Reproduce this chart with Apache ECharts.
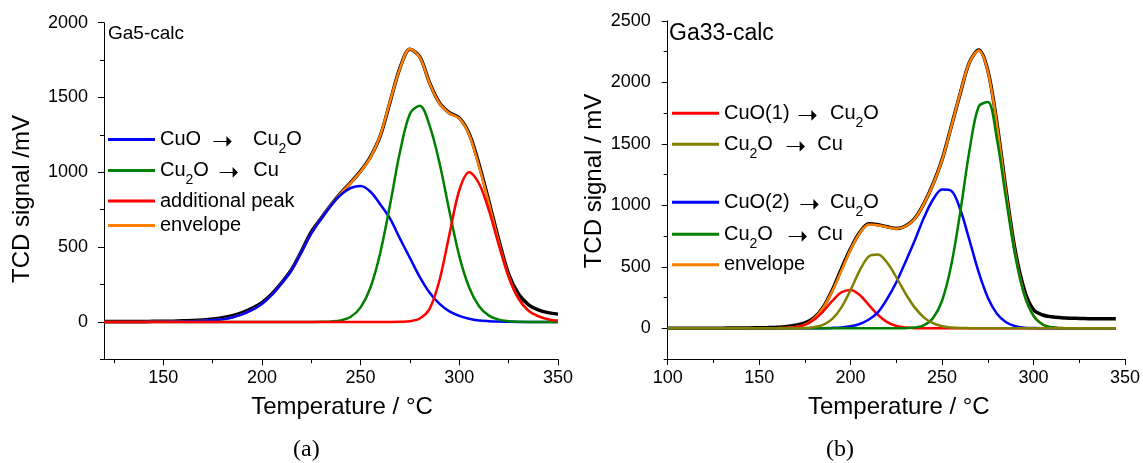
<!DOCTYPE html>
<html>
<head>
<meta charset="utf-8">
<script src="https://cdn.jsdelivr.net/npm/echarts@6/dist/echarts.min.js"></script>
<style>
html,body{margin:0;padding:0;background:#fff;}
#c{width:1143px;height:463px;}
</style>
</head>
<body>
<div id="c"></div>
<script>
// ---------- Panel (a): Ga5-calc ----------
const tempA = [120,125,130,135,140,145,150,155,160,165,170,175,180,185,190,195,200,205,210,215,220,225,230,235,240,245,250,255,260,265,270,275,280,285,290,295,300,305,310,315,320,325,330,335,340,345,350];
const aExperiment = [2,2,2,3,3,4,4,5,7,9,13,19,28,42,62,90,128,186,262,350,472,602,692,782,862,932,1008,1104,1245,1474,1700,1822,1772,1597,1463,1398,1364,1258,1053,806,548,320,186,116,81,62,52];
const aEnvelope   = [0,0,0,0,0,1,1,2,3,5,8,12,18,30,50,80,120,180,258,345,465,590,691,783,860,929,1005,1100,1249,1478,1696,1824,1768,1594,1460,1395,1360,1251,1040,792,532,306,156,75,38,17,7];
const aCuO        = [0,0,0,0,0,1,1,2,3,5,8,12,18,30,50,80,120,180,258,345,465,590,690,780,850,895,908,870,785,688,555,427,300,195,120,70,40,21,10,5,2,1,0,0,0,0,0];
const aCu2O       = [0,0,0,0,0,0,0,0,0,0,0,0,0,0,0,0,0,0,0,0,0,0,1,3,10,34,97,230,464,790,1140,1392,1445,1310,1060,740,440,230,105,42,15,5,1,0,0,0,0];
const aAdditional = [0,0,0,0,0,0,0,0,0,0,0,0,0,0,0,0,0,0,0,0,0,0,0,0,0,0,0,0,0,0,1,5,23,89,280,585,880,1000,925,745,515,300,155,75,38,17,7];

// ---------- Panel (b): Ga33-calc ----------
const tempB = [100,105,110,115,120,125,130,135,140,145,150,155,160,165,170,175,180,185,190,195,200,205,210,215,220,225,230,235,240,245,250,255,260,265,270,275,280,285,290,295,300,305,310,315,320,325,330,335,340,345];
const bExperiment = [0,0,0,0,1,1,1,2,2,3,4,6,9,15,25,44,84,172,312,485,648,780,850,843,826,812,832,892,1012,1172,1372,1640,1915,2165,2264,2098,1668,1122,632,312,150,108,93,86,82,80,78,77,77,78];
const bEnvelope   = [0,0,0,0,0,0,0,0,0,0,0,0,1,3,10,30,79,167,302,470,640,776,845,839,823,809,830,889,1010,1168,1369,1637,1917,2164,2261,2091,1656,1100,606,274,103,31,8,2,0,0,0,0,0,0];
const bCuO1       = [0,0,0,0,0,0,0,0,0,0,0,0,1,3,9,28,70,138,223,293,312,270,189,108,50,19,6,1,0,0,0,0,0,0,0,0,0,0,0,0,0,0,0,0,0,0,0,0,0,0];
const bCu2O1      = [0,0,0,0,0,0,0,0,0,0,0,0,0,0,1,2,9,28,76,170,312,471,585,600,533,415,283,170,89,41,16,6,2,1,0,0,0,0,0,0,0,0,0,0,0,0,0,0,0,0];
const bCuO2       = [0,0,0,0,0,0,0,0,0,0,0,0,0,0,0,0,0,1,3,7,16,35,71,131,240,375,540,712,897,1046,1129,1119,964,715,457,251,119,49,17,5,2,0,0,0,0,0,0,0,0,0];
const bCu2O2      = [0,0,0,0,0,0,0,0,0,0,0,0,0,0,0,0,0,0,0,0,0,0,0,0,0,0,1,6,24,81,224,512,951,1448,1804,1840,1537,1051,589,269,101,31,8,2,0,0,0,0,0,0];

// ---------- Tick values ----------
const xTicksA = [150,200,250,300,350];
const xMinorA = [125,175,225,275,325];
const yTicksA = [0,500,1000,1500,2000];
const yMinorA = [-250,250,750,1250,1750];
const xTicksB = [100,150,200,250,300,350];
const xMinorB = [125,175,225,275,325];
const yTicksB = [0,500,1000,1500,2000,2500];
const yMinorB = [-250,250,750,1250,1750,2250];

// ---------- Legend texts ----------
const legendText = {
  a_cuo:  '{w52|CuO}{a41|➝}{t|Cu}{s|2}{t|O}',
  a_cu2o: '{t|Cu}{s|2}{o25|O}{a35|➝}{t|Cu}',
  a_add:  '{t|additional peak}',
  a_env:  '{t|envelope}',
  b_cuo1: '{w73|CuO(1)}{a33|➝}{t|Cu}{s|2}{t|O}',
  b_cu2o1:'{t|Cu}{s|2}{o28|O}{a32|➝}{t|Cu}',
  b_cuo2: '{w75|CuO(2)}{a31|➝}{t|Cu}{s|2}{t|O}',
  b_cu2o2:'{t|Cu}{s|2}{o30|O}{a30|➝}{t|Cu}',
  b_env:  '{t|envelope}'
};

const FONT = "'Liberation Sans', Arial, Helvetica, sans-serif";
const SERIF = "'Liberation Serif', 'Times New Roman', serif";

const base = {fontFamily: FONT, fontSize: 20, lineHeight: 24, color: '#000', align: 'left', verticalAlign: 'middle'};
const RICH = {
  t: Object.assign({}, base),
  s: {fontFamily: FONT, fontSize: 14, lineHeight: 14, color: '#000', padding: [20,0,0,0], verticalAlign: 'middle', align: 'left'}
};
[52,73,75].forEach(w => RICH['w'+w] = Object.assign({}, base, {width: w}));
[25,28,30].forEach(w => RICH['o'+w] = Object.assign({}, base, {width: w}));
[41,35,33,32,31,30].forEach(w => RICH['a'+w] = {fontFamily: "'DejaVu Sans', sans-serif", fontSize: 25, lineHeight: 25, color: '#000', width: w, align: 'left', padding: [6,0,0,0], verticalAlign: 'middle'});

function pairs(xs, ys) { return xs.map((x, i) => [x, ys[i]]); }

function majorAxis(grid, pos, min, max, ticks, name, nameGap, namePad, labelMargin) {
  return {
    type: 'value', gridIndex: grid, position: pos, min: min, max: max, offset: 0,
    axisLine: {show: true, onZero: false, lineStyle: {color: '#000', width: 1}},
    axisTick: {show: true, customValues: ticks, length: 6, lineStyle: {color: '#000', width: 1}},
    axisLabel: {show: true, customValues: ticks, margin: labelMargin, fontSize: 18, color: '#000', fontFamily: FONT,
                formatter: v => String(v)},
    splitLine: {show: false},
    name: name, nameLocation: 'middle', nameGap: nameGap,
    nameTextStyle: {fontSize: 24, color: '#000', fontFamily: FONT, padding: namePad}
  };
}
function minorAxis(grid, pos, min, max, ticks) {
  return {
    type: 'value', gridIndex: grid, position: pos, min: min, max: max, offset: 0,
    axisLine: {show: false, onZero: false},
    axisTick: {show: true, customValues: ticks, length: 4, lineStyle: {color: '#000', width: 1}},
    axisLabel: {show: false},
    splitLine: {show: false}
  };
}
function line(name, xi, xs, ys, color, width) {
  return {
    type: 'line', name: name, xAxisIndex: xi, yAxisIndex: xi,
    data: pairs(xs, ys), symbol: 'none', showSymbol: false,
    smooth: 0.33,
    lineStyle: {color: color, width: width}, itemStyle: {color: color},
    emphasis: {disabled: true}, silent: true
  };
}
function legendItem(name, left, top) {
  return {
    data: [name], left: left, top: top, padding: 0, itemWidth: 47, itemHeight: 3,
    icon: 'rect', selectedMode: false, itemStyle: {borderWidth: 0},
    formatter: n => legendText[n],
    textStyle: {fontFamily: FONT, fontSize: 20, color: '#000', rich: RICH}
  };
}

const chart = echarts.init(document.getElementById('c'), null, {renderer: 'canvas'});
chart.setOption({
  backgroundColor: '#fff',
  animation: false,
  title: [
    {text: 'Ga5-calc', left: 108, top: 24, padding: 0, textStyle: {fontSize: 19, fontWeight: 'normal', color: '#000', fontFamily: FONT}},
    {text: 'Ga33-calc', left: 669, top: 22, padding: 0, textStyle: {fontSize: 23, fontWeight: 'normal', color: '#000', fontFamily: FONT}},
    {text: '(a)', left: 293, top: 438, padding: 0, textStyle: {fontSize: 24, fontWeight: 'normal', color: '#000', fontFamily: SERIF}},
    {text: '(b)', left: 826, top: 438, padding: 0, textStyle: {fontSize: 24, fontWeight: 'normal', color: '#000', fontFamily: SERIF}}
  ],
  grid: [
    {left: 104, right: 585, top: 22.7, bottom: 103.7, containLabel: false},
    {left: 667.7, right: 18, top: 21, bottom: 104, containLabel: false}
  ],
  xAxis: [
    majorAxis(0, 'bottom', 120, 350, xTicksA, 'Temperature / °C', 36, [0,0,0,22], 10),
    minorAxis(0, 'bottom', 120, 350, xMinorA),
    majorAxis(1, 'bottom', 100, 350, xTicksB, 'Temperature / °C', 36, [0,0,0,5], 10),
    minorAxis(1, 'bottom', 100, 350, xMinorB)
  ],
  yAxis: [
    majorAxis(0, 'left', -250, 2000, yTicksA, 'TCD signal /mV', 70, [0,16,0,0], 16),
    minorAxis(0, 'left', -250, 2000, yMinorA),
    majorAxis(1, 'left', -250, 2500, yTicksB, 'TCD signal / mV', 61, [0,0,0,18], 17),
    minorAxis(1, 'left', -250, 2500, yMinorB)
  ],
  legend: [
    legendItem('a_cuo', 108, 122.5),
    legendItem('a_cu2o', 108, 153.5),
    legendItem('a_add', 108, 191),
    legendItem('a_env', 108, 215.5),
    legendItem('b_cuo1', 672, 96.3),
    legendItem('b_cu2o1', 672, 127.3),
    legendItem('b_cuo2', 672, 185.3),
    legendItem('b_cu2o2', 672, 217.3),
    legendItem('b_env', 672, 254.7)
  ],
  series: [
    line('a_exp', 0, tempA, aExperiment, '#000000', 3.5),
    line('a_env', 0, tempA, aEnvelope, '#FF8000', 2.5),
    line('a_cuo', 0, tempA, aCuO, '#0000FF', 2.5),
    line('a_cu2o', 0, tempA, aCu2O, '#008000', 2.5),
    line('a_add', 0, tempA, aAdditional, '#FF0000', 2.5),
    line('b_exp', 2, tempB, bExperiment, '#000000', 3.5),
    line('b_env', 2, tempB, bEnvelope, '#FF8000', 2.5),
    line('b_cuo1', 2, tempB, bCuO1, '#FF0000', 2.5),
    line('b_cuo2', 2, tempB, bCuO2, '#0000FF', 2.5),
    line('b_cu2o2', 2, tempB, bCu2O2, '#008000', 2.5),
    line('b_cu2o1', 2, tempB, bCu2O1, '#808000', 2.5)
  ]
});
</script>
</body>
</html>
